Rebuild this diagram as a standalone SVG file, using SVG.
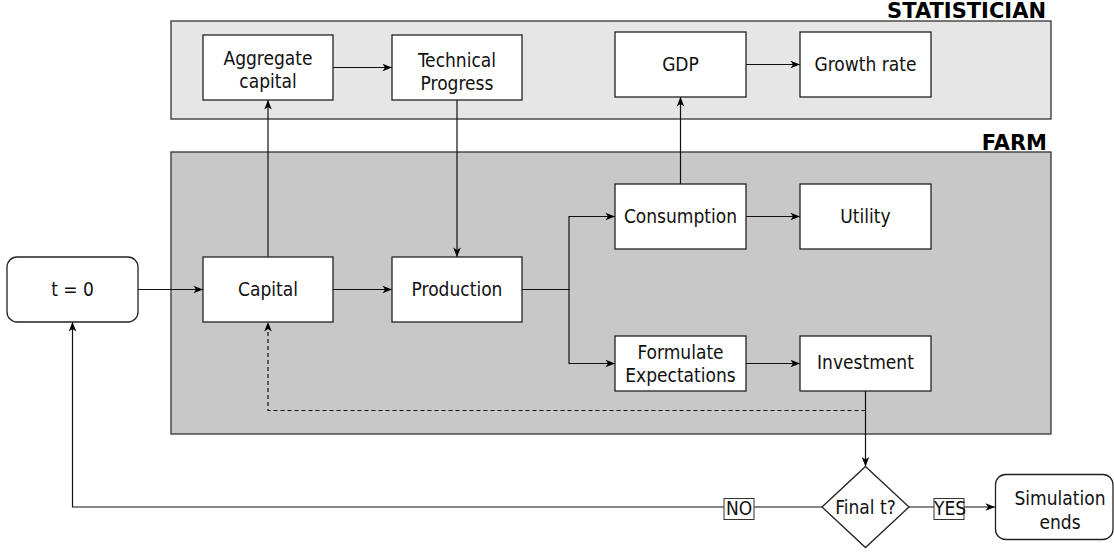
<svg xmlns="http://www.w3.org/2000/svg" width="1114" height="552" viewBox="0 0 1114 552">
<defs>
<marker id="arr" markerUnits="userSpaceOnUse" markerWidth="10" markerHeight="10" refX="10" refY="5" orient="auto">
<path d="M0.5,1.2 L10,5 L0.5,8.8 L3,5 z" fill="#000"/>
</marker>
<style>
.t{font-family:'DejaVu Sans Condensed','DejaVu Sans',sans-serif;font-stretch:condensed;font-size:19px;fill:#111;text-anchor:middle}
.h{font-family:'DejaVu Sans',sans-serif;font-weight:bold;font-size:21px;fill:#000;text-anchor:end}
.n{fill:#fff;stroke:#222;stroke-width:1.3}
.c{fill:none;stroke:#111;stroke-width:1.2;marker-end:url(#arr)}
.lb{fill:#fff;stroke:#333;stroke-width:1}
</style>
</defs>
<rect width="1114" height="552" fill="#fff"/>
<g id="statistician">
<rect x="171" y="21" width="880" height="98" fill="#e6e6e6" stroke="#333" stroke-width="1.3"/>
<text class="h" x="1046" y="17.5">STATISTICIAN</text>
</g>
<g id="farm">
<rect x="171" y="152" width="880" height="282" fill="#c8c8c8" stroke="#333" stroke-width="1.3"/>
<text class="h" x="1047" y="150">FARM</text>
</g>
<g id="connectors">
<path class="c" d="M138,289.5 H203"/>
<path class="c" d="M333,289.5 H392"/>
<path class="c" d="M522,289.5 H569 V216.5 H615"/>
<path class="c" d="M522,289.5 H569 V363.5 H615"/>
<path class="c" d="M746,216.5 H800"/>
<path class="c" d="M746,363.5 H800"/>
<path class="c" d="M268,257 V100"/>
<path class="c" d="M333,67.5 H392"/>
<path class="c" d="M457,100 V257"/>
<path class="c" d="M680.5,184 V97"/>
<path class="c" d="M746,64.5 H800"/>
<path class="c" d="M865.5,391 V466.5"/>
<path class="c" d="M865.5,410.5 H268 V322" stroke-dasharray="4,3"/>
<path class="c" d="M909,507 H995"/>
<path class="c" d="M822,507 H72.5 V322"/>
</g>
<g id="label-no">
<rect class="lb" x="724" y="498.5" width="30" height="21"/>
<text class="t" x="739" y="515">NO</text>
</g>
<g id="label-yes">
<rect class="lb" x="934" y="498.5" width="30" height="21"/>
<text class="t" x="950" y="515">YES</text>
</g>
<g id="aggregate-capital">
<rect class="n" x="203" y="35" width="130" height="65"/>
<text class="t" x="268" y="64.5">Aggregate</text>
<text class="t" x="268" y="87.5">capital</text>
</g>
<g id="technical-progress">
<rect class="n" x="392" y="35" width="130" height="65"/>
<text class="t" x="457" y="66.5">Technical</text>
<text class="t" x="457" y="89.5">Progress</text>
</g>
<g id="gdp">
<rect class="n" x="615" y="32" width="131" height="65"/>
<text class="t" x="680.5" y="70.5">GDP</text>
</g>
<g id="growth-rate">
<rect class="n" x="800" y="32" width="131" height="65"/>
<text class="t" x="865.5" y="70.5">Growth rate</text>
</g>
<g id="t0">
<rect class="n" x="7" y="257" width="131" height="65" rx="10" ry="10"/>
<text class="t" x="72.5" y="296">t = 0</text>
</g>
<g id="capital">
<rect class="n" x="203" y="257" width="130" height="65"/>
<text class="t" x="268" y="296">Capital</text>
</g>
<g id="production">
<rect class="n" x="392" y="257" width="130" height="65"/>
<text class="t" x="457" y="296">Production</text>
</g>
<g id="consumption">
<rect class="n" x="615" y="184" width="131" height="65"/>
<text class="t" x="680.5" y="222.5">Consumption</text>
</g>
<g id="utility">
<rect class="n" x="800" y="184" width="131" height="65"/>
<text class="t" x="865.5" y="222.5">Utility</text>
</g>
<g id="formulate-expectations">
<rect class="n" x="615" y="336" width="131" height="55"/>
<text class="t" x="680.5" y="358.5">Formulate</text>
<text class="t" x="680.5" y="381.5">Expectations</text>
</g>
<g id="investment">
<rect class="n" x="800" y="336" width="131" height="55"/>
<text class="t" x="865.5" y="368.5">Investment</text>
</g>
<g id="final-t">
<path class="n" d="M865.5,466.5 L909,507 L865.5,547.5 L822,507 z"/>
<text class="t" x="865.5" y="514">Final t?</text>
</g>
<g id="simulation-ends">
<rect class="n" x="995.5" y="474.5" width="117.5" height="65" rx="10" ry="10"/>
<text class="t" x="1060" y="504.5">Simulation</text>
<text class="t" x="1060" y="528.5">ends</text>
</g>
</svg>
